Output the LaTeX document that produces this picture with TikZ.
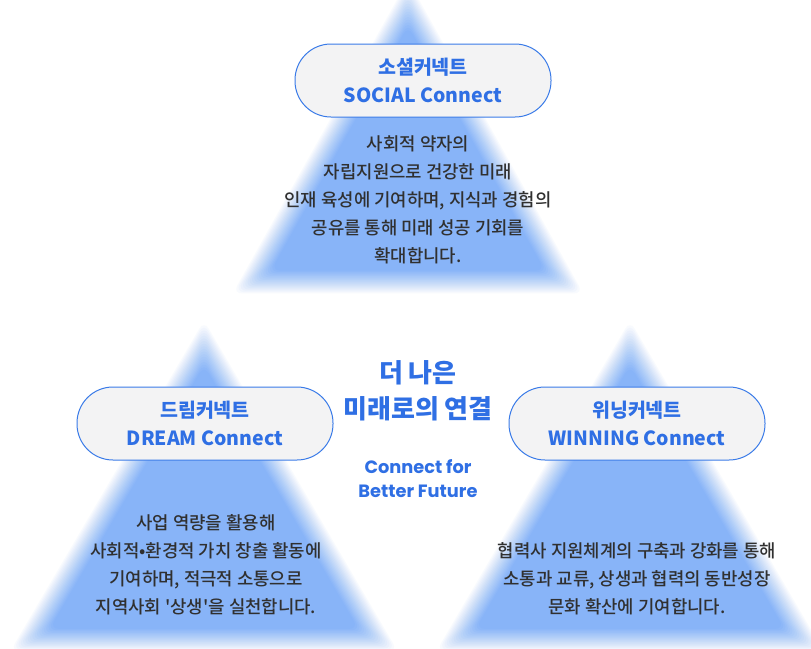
\documentclass[tikz,border=0pt]{standalone}
\usepackage{fontspec}
\setmainfont{Noto Sans CJK KR}
\newfontfamily\medfont{Noto Sans CJK KR Medium}
\newfontfamily\popfont{Poppins}
\definecolor{triBlue}{HTML}{88B4F8}
\definecolor{brandBlue}{HTML}{2F6FE4}
\definecolor{pillLine}{HTML}{3A7BE8}
\definecolor{pillFill}{HTML}{F3F3F4}
\definecolor{bodyText}{HTML}{303030}
% soft (blurred) triangle: apex x, apex y, half base width, height, inradius
\newcommand\softtri[5]{%
  \foreach \i in {1,...,18}{%
    \pgfmathsetmacro\s{1+(9.5-\i)*1.3/#5}%
    \pgfmathsetmacro\op{1/(19-\i)}%
    \begin{scope}[shift={(#1,#2+2*#4/3)}, scale=\s]
      \fill[triBlue, fill opacity=\op, rounded corners=9pt]
        (0,-2*#4/3) -- (#3,#4/3) -- (-#3,#4/3) -- cycle;
    \end{scope}}}
\tikzset{
  pill/.style={draw=pillLine, line width=1pt, fill=pillFill, rounded corners=36pt,
    minimum width=256pt, minimum height=73pt, align=center, text=brandBlue,
    font=\fontsize{19.5}{28}\selectfont\bfseries},
  bodytxt/.style={align=center, text=bodyText, font=\medfont\fontsize{17.8}{28}\selectfont},
  headtxt/.style={align=center, text=brandBlue, font=\fontsize{26}{36}\selectfont\bfseries},
  subtxt/.style={align=center, text=brandBlue, font=\popfont\bfseries\fontsize{17.8}{24}\selectfont}
}
\begin{document}
\begin{tikzpicture}[x=1pt,y=-1pt]
\useasboundingbox (0,0) rectangle (811,648);
\fill[white] (0,0) rectangle (811,648);
% triangles
\softtri{408}{3}{156}{279}{90}
\softtri{204}{343}{174}{297}{98}
\softtri{630}{343}{174}{297}{98}
% pills
\node[pill] (social) at (423,80.5) {소셜커넥트\\SOCIAL Connect};
\node[pill] (dream) at (205,423.5) {드림커넥트\\DREAM Connect};
\node[pill] (winning) at (637,423.5) {위닝커넥트\\WINNING Connect};
% body texts
\node[bodytxt] (socialtxt) at (418,199.5) {사회적 약자의\\자립지원으로 건강한 미래\\인재 육성에 기여하며, 지식과 경험의\\공유를 통해 미래 성공 기회를\\확대합니다.};
\node[bodytxt] (dreamtxt) at (206,565) {사업 역량을 활용해\\사회적•환경적 가치 창출 활동에\\기여하며, 적극적 소통으로\\지역사회 \textquotesingle 상생\textquotesingle 을 실천합니다.};
\node[bodytxt] (winningtxt) at (637,579) {협력사 지원체계의 구축과 강화를 통해\\소통과 교류, 상생과 협력의 동반성장\\문화 확산에 기여합니다.};
% centre
\node[headtxt] (head) at (418,391) {더 나은\\미래로의 연결};
\node[subtxt] (sub) at (418,479) {Connect for\\Better Future};
\end{tikzpicture}
\end{document}
